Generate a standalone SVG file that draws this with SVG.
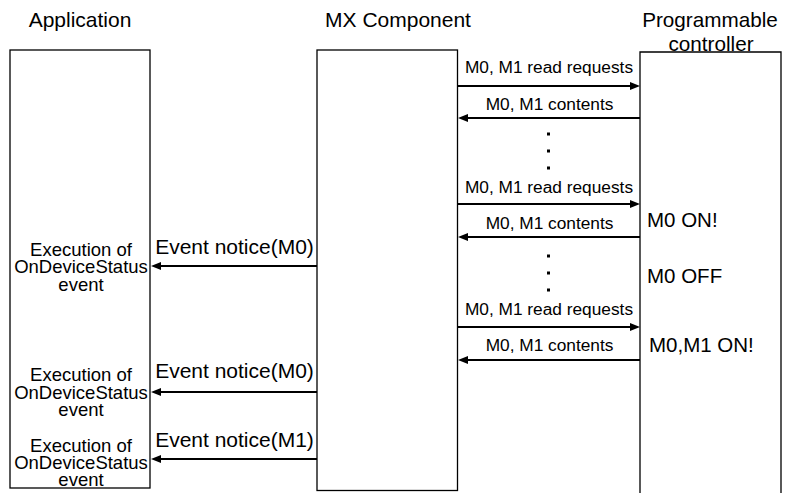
<svg xmlns="http://www.w3.org/2000/svg" width="787" height="493" viewBox="0 0 787 493">
<style>
text{font-family:"Liberation Sans",Arial,sans-serif;fill:#000}
.t{font-size:21px;text-anchor:middle}
.lb{font-size:17.3px;text-anchor:middle}
.st{font-size:20.5px}
.ev{font-size:21px;text-anchor:middle}
.ex{font-size:18.5px;text-anchor:middle}
.box{fill:#fff;stroke:#000;stroke-width:1.3}
.ar{stroke:#000;stroke-width:2;fill:none}
.ah{fill:#000}
.dot{fill:#000}
</style>
<rect width="787" height="493" fill="#fff"/>
<g id="application">
<rect class="box" x="10" y="50" width="140" height="438"/>
<text class="t" x="80" y="27">Application</text>
<text class="ex" x="81" y="256">Execution of</text>
<text class="ex" x="81" y="273">OnDeviceStatus</text>
<text class="ex" x="81" y="291">event</text>
<text class="ex" x="81" y="381">Execution of</text>
<text class="ex" x="81" y="399">OnDeviceStatus</text>
<text class="ex" x="81" y="416">event</text>
<text class="ex" x="81" y="452">Execution of</text>
<text class="ex" x="81" y="469">OnDeviceStatus</text>
<text class="ex" x="81" y="486">event</text>
</g>
<g id="mx-component">
<rect class="box" x="317" y="50" width="140.5" height="440.5"/>
<text class="t" x="398" y="27">MX Component</text>
</g>
<g id="plc">
<path class="box" d="M640,494 V52 H781 V494"/>
<text class="t" x="710" y="27" style="font-size:20.7px">Programmable</text>
<text class="t" x="711" y="50.5" style="font-size:20.7px">controller</text>
<text class="st" x="647" y="227">M0 ON!</text>
<text class="st" x="647" y="283">M0 OFF</text>
<text class="st" x="649" y="352">M0,M1 ON!</text>
</g>
<g id="connectors">
<line class="ar" x1="458" y1="86" x2="632" y2="86"/>
<polygon class="ah" points="640,86 630,82 630,90"/>
<text class="lb" x="549" y="73">M0, M1 read requests</text>
<line class="ar" x1="466" y1="118" x2="640" y2="118"/>
<polygon class="ah" points="458,118 468,114 468,122"/>
<text class="lb" x="549.5" y="110">M0, M1 contents</text>

<line class="ar" x1="458" y1="204" x2="632" y2="204"/>
<polygon class="ah" points="640,204 630,200 630,208"/>
<text class="lb" x="549" y="193">M0, M1 read requests</text>
<line class="ar" x1="466" y1="237" x2="640" y2="237"/>
<polygon class="ah" points="458,237 468,233 468,241"/>
<text class="lb" x="549.5" y="229">M0, M1 contents</text>

<line class="ar" x1="458" y1="327" x2="632" y2="327"/>
<polygon class="ah" points="640,327 630,323 630,331"/>
<text class="lb" x="549" y="315">M0, M1 read requests</text>
<line class="ar" x1="466" y1="360" x2="640" y2="360"/>
<polygon class="ah" points="458,360 468,356 468,364"/>
<text class="lb" x="549.5" y="351">M0, M1 contents</text>

<rect class="dot" x="547" y="132.5" width="3" height="3"/>
<rect class="dot" x="547" y="149.5" width="3" height="3"/>
<rect class="dot" x="547" y="166.5" width="3" height="3"/>
<rect class="dot" x="547" y="254.5" width="3" height="3"/>
<rect class="dot" x="547" y="271.5" width="3" height="3"/>
<rect class="dot" x="547" y="288.5" width="3" height="3"/>

<line class="ar" x1="159" y1="266" x2="317" y2="266"/>
<polygon class="ah" points="151,266 161,262 161,270"/>
<text class="ev" x="234.5" y="254">Event notice(M0)</text>
<line class="ar" x1="159" y1="392" x2="317" y2="392"/>
<polygon class="ah" points="151,392 161,388 161,396"/>
<text class="ev" x="234.5" y="378">Event notice(M0)</text>
<line class="ar" x1="159" y1="459" x2="317" y2="459"/>
<polygon class="ah" points="151,459 161,455 161,463"/>
<text class="ev" x="234.5" y="447">Event notice(M1)</text>
</g>
</svg>
